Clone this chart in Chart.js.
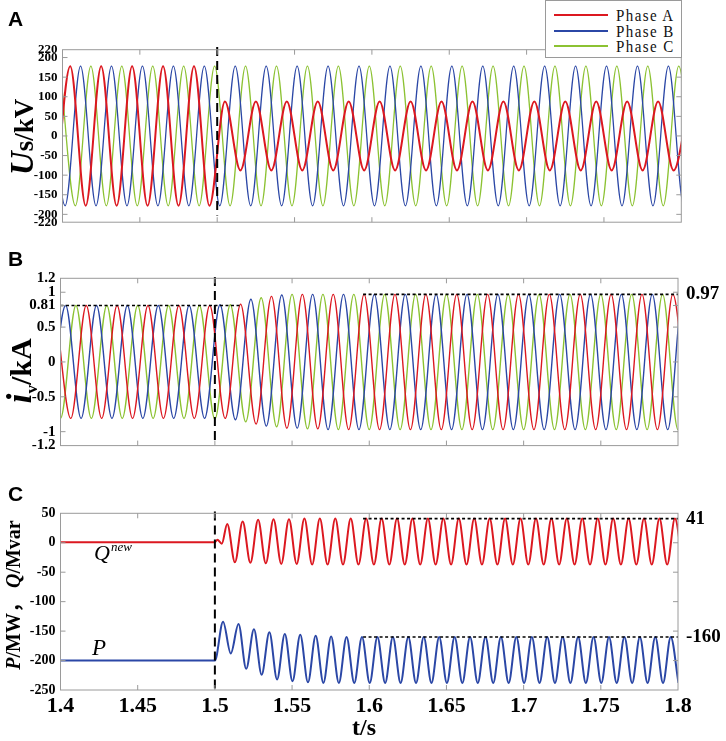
<!DOCTYPE html>
<html><head><meta charset="utf-8">
<script src="https://cdn.jsdelivr.net/npm/chart.js@4.4.1/dist/chart.umd.min.js"></script>
<style>
html,body{margin:0;padding:0;background:#fff;}
#wrap{position:relative;width:726px;height:741px;overflow:hidden;background:#fff;}
canvas{position:absolute;left:0;}
.lbl{position:absolute;white-space:nowrap;line-height:1;color:#000;}
.rot{transform:translate(-50%,-50%) rotate(-90deg);}
.serif{font-family:'Liberation Serif','Noto Sans CJK SC',serif;}
#legend{position:absolute;left:545px;top:0;width:135px;height:56px;border:1px solid #9a9a9a;background:#fff;z-index:5;}
.lrow{position:absolute;left:0;width:135px;height:16px;}
.lline{position:absolute;left:8px;width:54px;height:2px;top:7px;}
.ltxt{position:absolute;left:70px;top:0;font:15px 'Liberation Serif',serif;letter-spacing:1.4px;line-height:16px;color:#111;transform:scaleY(1.12);transform-origin:left center;}
</style></head>
<body><div id="wrap">
<canvas id="cA" width="726" height="235" style="top:0px;width:726px;height:235px"></canvas>
<canvas id="cB" width="726" height="225" style="top:240px;width:726px;height:225px"></canvas>
<canvas id="cC" width="726" height="271" style="top:470px;width:726px;height:271px"></canvas>

<div class="lbl" style="left:8px;top:7px;font:bold 21px 'Liberation Sans',sans-serif;">A</div>
<div class="lbl" style="left:8px;top:247px;font:bold 21px 'Liberation Sans',sans-serif;">B</div>
<div class="lbl" style="left:8px;top:482px;font:bold 21px 'Liberation Sans',sans-serif;">C</div>

<div class="lbl rot serif" style="left:21.5px;top:136.5px;font-weight:bold;font-size:27px;"><i style="font-size:33px">U</i>s/kV</div>
<div class="lbl rot serif" style="left:18.5px;top:371px;font-weight:bold;font-size:30px;"><i style="font-size:36px">i</i><span style="font-size:17px;position:relative;top:6px">v</span>/kA</div>
<div class="lbl rot serif" style="left:12.5px;top:595px;font-weight:bold;font-size:20px;"><i>P</i>/MW， <i>Q</i>/Mvar</div>

<div class="lbl serif" style="left:94px;top:542px;font-size:22px;font-style:italic;">Q<span style="font-size:13px;position:relative;top:-9px;left:1px">new</span></div>
<div class="lbl serif" style="left:92px;top:636px;font-size:23px;font-style:italic;">P</div>
<div class="lbl serif" style="left:352px;top:715px;font-size:24px;font-weight:bold;">t/s</div>

<div id="legend"></div>
</div>
<script>
// ---------------- data ----------------
const xTicks = [1.4, 1.45, 1.5, 1.55, 1.6, 1.65, 1.7, 1.75, 1.8];
const xTickLabels = ['1.4', '1.45', '1.5', '1.55', '1.6', '1.65', '1.7', '1.75', '1.8'];
const phaseNames = ['Phase A', 'Phase B', 'Phase C'];
const faultTime = 1.5;

// Panel A: source voltage Us (kV) — successive peak/trough values, one every half cycle (0.01 s)
const uHalfStep = 0.01;
const uA_t0 = 1.395;
const uA = [-178,178,-178,178,-178,178,-178,178,-178,178,-178,
  88,-88,88,-88,88,-88,88,-88,88,-88,88,-88,88,-88,88,-88,88,-88,88,-88,
  88,-88,88,-88,88,-88,88,-88,88,-88,88];
const uB_t0 = 1.39167;
const uB = [178,-178,178,-178,178,-178,178,-178,178,-178,178,-178,178,-178,178,-178,178,-178,178,-178,
  178,-178,178,-178,178,-178,178,-178,178,-178,178,-178,178,-178,178,-178,178,-178,178,-178,178,-178,178];
const uC_t0 = 1.39833;
const uC = [178,-178,178,-178,178,-178,178,-178,178,-178,178,-178,178,-178,178,-178,178,-178,178,-178,
  178,-178,178,-178,178,-178,178,-178,178,-178,178,-178,178,-178,178,-178,178,-178,178,-178,178,-178];
const uTicks = [220, 200, 150, 100, 50, 0, -50, -100, -150, -200, -220];
const uDash = [227, -203];

// Panel B: converter current iv (kA)
const iHalfStep = 0.01;
const iA_t0 = 1.39667;
const iA = [0.81,-0.81,0.81,-0.81,0.81,-0.81,0.81,-0.81,0.81,-0.81,0.81,
  -0.81,0.83,-0.89,0.94,-0.95,0.97,-0.96,0.97,
  -0.97,0.97,-0.97,0.97,-0.97,0.97,-0.97,0.97,-0.97,0.97,-0.97,0.97,-0.97,0.97,-0.97,0.97,-0.97,0.97,-0.97,0.97,-0.97,0.97,-0.97];
const iB_t0 = 1.39333;
const iB = [-0.81,0.81,-0.81,0.81,-0.81,0.81,-0.81,0.81,-0.81,0.81,-0.81,
  0.82,-0.83,0.90,-0.92,0.96,-0.95,0.97,-0.97,
  0.97,-0.97,0.97,-0.97,0.97,-0.97,0.97,-0.97,0.97,-0.97,0.97,-0.97,0.97,-0.97,0.97,-0.97,0.97,-0.97,0.97,-0.97,0.97,-0.97,0.97,-0.97];
const iC_t0 = 1.39;
const iC = [0.81,-0.81,0.81,-0.81,0.81,-0.81,0.81,-0.81,0.81,-0.81,0.81,
  -0.82,0.82,-0.86,0.92,-0.93,0.97,-0.96,0.97,
  -0.97,0.97,-0.97,0.97,-0.97,0.97,-0.97,0.97,-0.97,0.97,-0.97,0.97,-0.97,0.97,-0.97,0.97,-0.97,0.97,-0.97,0.97,-0.97,0.97,-0.97,0.97];
const iTicks = [1.2, 1, 0.81, 0.5, 0, -0.5, -1, -1.2];
const iRightTicks = [0.97];
const iDash = [1.22, -1.12];
const iRef1 = {from: 1.4, to: 1.5175, value: 0.81};
const iRef2 = {from: 1.596, to: 1.8, value: 0.97};

// Panel C: active power P (MW) and reactive power Qnew (Mvar), oscillating at 100 Hz after the fault
const pqHalfStep = 0.005;
const qHeadT = [1.39, 1.5, 1.5016, 1.5045];
const qHeadV = [1, 1, 5, -1.5];
const qOsc_t0 = 1.508;
const qOsc = [32,-33,36,-34,39,-35,40,-36,40,-36,41,-37,
  41,-37,41,-37,41,-37,41,-37,41,-37,41,-37,41,-37,41,-37,41,-37,41,-37,41,-37,41,-37,
  41,-37,41,-37,41,-37,41,-37,41,-37,41,-37,41,-37,41,-37,41,-37,41,-37,41,-37,41,-37];
const pHeadT = [1.39, 1.5];
const pHeadV = [-200, -200];
const pOsc_t0 = 1.5053;
const pOsc = [-134,-188,-138,-214,-147,-224,-152,-232,-155,-235,-156,-237,-158,-238,-159,-238,
  -160,-238,-160,-238,-160,-238,-160,-238,-160,-238,-160,-238,-160,-238,-160,-238,-160,-238,-160,-238,
  -160,-238,-160,-238,-160,-238,-160,-238,-160,-238,-160,-238,-160,-238,-160,-238,-160,-238,-160,-238,-160,-238,-160,-238];
const pqTicks = [50, 0, -50, -100, -150, -200, -250];
const pqRightTicks = [41, -160];
const pqDash = [53, -250];
const qRef = {from: 1.596, to: 1.8, value: 41};
const pRef = {from: 1.596, to: 1.8, value: -160};

// ---------------- styling ----------------
const RED = '#dc1820', BLUE = '#2b47a6', GREEN = '#8cc232';

function extrema(t0, step, vals) {
  return vals.map((v, i) => ({x: +(t0 + i * step).toFixed(5), y: v}));
}
function points(ts, vs) { return ts.map((t, i) => ({x: t, y: vs[i]})); }
function wave(label, data, color, width, order) {
  return {label, data, borderColor: color, backgroundColor: color, borderWidth: width, pointRadius: 0,
    fill: false, cubicInterpolationMode: 'monotone', order};
}
function vline(vals, yAxisID) {
  return {label: 'fault', data: [{x: faultTime, y: vals[0]}, {x: faultTime, y: vals[1]}], borderColor: '#000',
    borderWidth: 2, borderDash: [9, 5], pointRadius: 0, clip: false, order: 0, yAxisID};
}
function hline(ref) {
  return {label: 'ref', data: [{x: ref.from, y: ref.value}, {x: ref.to, y: ref.value}], borderColor: '#000',
    borderWidth: 1.6, borderDash: [3, 2.5], pointRadius: 0, order: 0};
}

const serif = 'Liberation Serif';
function xScale(showLabels, height) {
  return {type: 'linear', min: 1.4, max: 1.8,
    afterBuildTicks: s => { s.ticks = xTicks.map(v => ({value: v})); },
    afterFit: s => { s.height = height; },
    grid: {display: false, drawTicks: false}, border: {display: false},
    ticks: {display: showLabels, autoSkip: false, maxRotation: 0, minRotation: 0, padding: 3, color: '#000',
      font: {family: serif, weight: 'bold', size: 22}, callback: (v, i) => xTickLabels[i]}};
}
function yScale(min, max, ticks, size, width, position) {
  return {type: 'linear', position, min, max,
    afterBuildTicks: s => { s.ticks = ticks.map(v => ({value: v})); },
    afterFit: s => { s.width = width; },
    grid: {display: false, drawTicks: false}, border: {display: false},
    ticks: {autoSkip: false, padding: position === 'left' ? 5 : 8, color: '#000',
      font: {family: serif, weight: 'bold', size}, callback: v => String(v)}};
}

const frame = {
  id: 'frame',
  afterDatasetsDraw(chart) {
    const {ctx, chartArea: a, scales} = chart;
    const L = 5;
    ctx.save();
    ctx.strokeStyle = '#9a9a9a';
    ctx.lineWidth = 1;
    ctx.setLineDash([]);
    ctx.strokeRect(a.left, a.top, a.right - a.left, a.bottom - a.top);
    ctx.beginPath();
    scales.x.ticks.forEach(t => {
      const p = scales.x.getPixelForValue(t.value);
      if (p <= a.left + 1 || p >= a.right - 1) return;
      ctx.moveTo(p, a.bottom); ctx.lineTo(p, a.bottom - L);
      ctx.moveTo(p, a.top); ctx.lineTo(p, a.top + L);
    });
    scales.y.ticks.forEach(t => {
      const p = scales.y.getPixelForValue(t.value);
      if (p <= a.top + 1 || p >= a.bottom - 1) return;
      ctx.moveTo(a.left, p); ctx.lineTo(a.left + L, p);
      ctx.moveTo(a.right, p); ctx.lineTo(a.right - L, p);
    });
    ctx.stroke();
    ctx.restore();
  }
};

const common = {
  responsive: false, animation: false, events: [],
  elements: {line: {capBezierPoints: false}},
  plugins: {legend: {display: false}, tooltip: {enabled: false}}
};

// Panel A
const chartA = new Chart(document.getElementById('cA'), {
  type: 'line',
  data: {datasets: [
    vline(uDash, 'y'),
    wave(phaseNames[0], extrema(uA_t0, uHalfStep, uA), RED, 2, 1),
    wave(phaseNames[1], extrema(uB_t0, uHalfStep, uB), BLUE, 1.3, 2),
    wave(phaseNames[2], extrema(uC_t0, uHalfStep, uC), GREEN, 1.3, 3)
  ]},
  options: Object.assign({}, common, {
    layout: {padding: {top: 49.7, left: 0, right: 44.7, bottom: 0}},
    scales: {x: xScale(false, 6.3), y: yScale(-220, 220, uTicks, 13, 62.5, 'left')}
  }),
  plugins: [frame]
});

// Panel B
new Chart(document.getElementById('cB'), {
  type: 'line',
  data: {datasets: [
    vline(iDash, 'y'),
    hline(iRef1), hline(iRef2),
    wave(phaseNames[0], extrema(iA_t0, iHalfStep, iA), RED, 1.4, 1),
    wave(phaseNames[1], extrema(iB_t0, iHalfStep, iB), BLUE, 1.4, 2),
    wave(phaseNames[2], extrema(iC_t0, iHalfStep, iC), GREEN, 1.4, 3)
  ]},
  options: Object.assign({}, common, {
    layout: {padding: {top: 38.3, left: 0, right: 0, bottom: 0}},
    scales: {x: xScale(false, 7.3), y: yScale(-1.2, 1.2, iTicks, 15, 60.5, 'left'),
      yR: yScale(-1.2, 1.2, iRightTicks, 19, 48, 'right')}
  }),
  plugins: [frame]
});

// Panel C
new Chart(document.getElementById('cC'), {
  type: 'line',
  data: {datasets: [
    vline(pqDash, 'y'),
    hline(qRef), hline(pRef),
    wave('Qnew', points(qHeadT, qHeadV).concat(extrema(qOsc_t0, pqHalfStep, qOsc)), RED, 2, 1),
    wave('P', points(pHeadT, pHeadV).concat(extrema(pOsc_t0, pqHalfStep, pOsc)), BLUE, 2, 2)
  ]},
  options: Object.assign({}, common, {
    layout: {padding: {top: 43.3, left: 0, right: 0, bottom: 0}},
    scales: {x: xScale(true, 51), y: yScale(-250, 50, pqTicks, 14, 60.5, 'left'),
      yR: yScale(-250, 50, pqRightTicks, 19, 48, 'right')}
  }),
  plugins: [frame]
});

// Legend built from panel A's phase datasets
const leg = document.getElementById('legend');
chartA.data.datasets.slice(1).forEach((ds, i) => {
  const row = document.createElement('div');
  row.className = 'lrow';
  row.style.top = (6 + i * 15.7) + 'px';
  row.innerHTML = '<div class="lline" style="background:' + ds.borderColor + '"></div><div class="ltxt">' + ds.label + '</div>';
  leg.appendChild(row);
});
</script>
</body></html>
